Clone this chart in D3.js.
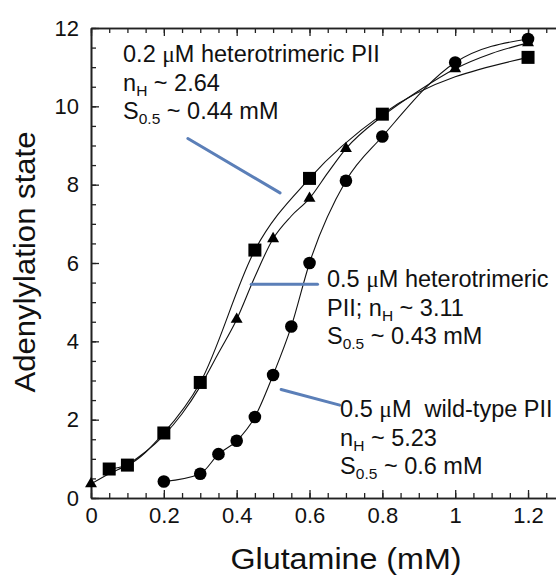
<!DOCTYPE html>
<html>
<head>
<meta charset="utf-8">
<script src="https://cdn.jsdelivr.net/npm/d3@7"></script>
<style>
  html, body { margin: 0; padding: 0; background: #fff; }
  svg { display: block; }
  text { font-family: "Liberation Sans", Arial, Helvetica, sans-serif; fill: #111; }
</style>
</head>
<body>
<svg id="chart" width="556" height="575"></svg>
<script>
// ---------- data ----------
// 0.2 µM heterotrimeric PII (squares)
const sqX = [0.05, 0.1, 0.2, 0.3, 0.45, 0.6, 0.8, 1.2];
const sqY = [0.74, 0.84, 1.66, 2.95, 6.33, 8.16, 9.8, 11.25];
// 0.5 µM heterotrimeric PII (triangles)
const triX = [0, 0.4, 0.5, 0.6, 0.7, 1.0, 1.2];
const triY = [0.36, 4.56, 6.62, 7.65, 8.92, 10.96, 11.62];
// fitted curve for triangles
const triFitX = [0, 0.05, 0.1, 0.15, 0.2, 0.25, 0.3, 0.35, 0.4, 0.45, 0.5, 0.55, 0.6, 0.65, 0.7, 0.8, 0.9, 1.0, 1.1, 1.2];
const triFitY = [0.36, 0.62, 0.85, 1.18, 1.6, 2.15, 2.85, 3.7, 4.56, 5.65, 6.62, 7.2, 7.65, 8.3, 8.92, 9.75, 10.4, 10.96, 11.35, 11.62];
// 0.5 µM wild-type PII (circles)
const ciX = [0.2, 0.3, 0.35, 0.4, 0.45, 0.5, 0.55, 0.6, 0.7, 0.8, 1.0, 1.2];
const ciY = [0.42, 0.62, 1.12, 1.46, 2.07, 3.14, 4.38, 6.0, 8.1, 9.23, 11.12, 11.72];

const xMajor = [0, 0.2, 0.4, 0.6, 0.8, 1.0, 1.2];
const xMajorLabels = ["0", "0.2", "0.4", "0.6", "0.8", "1", "1.2"];
const xMinor = d3.range(0, 27).map(i => i * 0.05);
const yMajor = [0, 2, 4, 6, 8, 10, 12];
const yMinor = d3.range(0, 25).map(i => i * 0.5);

const xTitle = "Glutamine (mM)";
const yTitle = "Adenylylation state";

// annotations: segments per line
const notes = [
  { x: 0.088, y: 11.12, lines: [
      [["0.2 ", ""], ["μ", "mu"], ["M heterotrimeric PII", ""]],
      [["n", ""], ["H", "sub"], [" ~ 2.64", ""]],
      [["S", ""], ["0.5", "sub"], [" ~ 0.44 mM", ""]]
    ], pointer: [[0.266, 9.18], [0.519, 7.79]] },
  { x: 0.648, y: 5.38, lines: [
      [["0.5 ", ""], ["μ", "mu"], ["M heterotrimeric", ""]],
      [["PII; n", ""], ["H", "sub"], [" ~ 3.11", ""]],
      [["S", ""], ["0.5", "sub"], [" ~ 0.43 mM", ""]]
    ], pointer: [[0.44, 5.46], [0.622, 5.46]] },
  { x: 0.684, y: 2.06, lines: [
      [["0.5 ", ""], ["μ", "mu"], ["M\u00a0 wild-type PII", ""]],
      [["n", ""], ["H", "sub"], [" ~ 5.23", ""]],
      [["S", ""], ["0.5", "sub"], [" ~ 0.6 mM", ""]]
    ], pointer: [[0.522, 2.77], [0.683, 2.37]] }
];

// ---------- layout ----------
const svg = d3.select("#chart");
const x = d3.scaleLinear().domain([0, 1.3]).range([91, 91 + 1.3 * 364.2]);
const y = d3.scaleLinear().domain([0, 12]).range([498, 28]);

const axisColor = "#222";
function styleAxis(g) {
  g.selectAll("path.domain").attr("stroke", axisColor).attr("stroke-width", 1.6);
  g.selectAll(".tick line").attr("stroke", axisColor).attr("stroke-width", 1.3);
  g.selectAll("text").attr("font-size", 22).attr("fill", "#111")
    .attr("font-family", "'Liberation Sans', Arial, Helvetica, sans-serif");
}
// bottom
svg.append("g").attr("transform", `translate(0,${y(0)})`)
  .call(d3.axisBottom(x).tickValues(xMinor).tickSizeInner(-5).tickSizeOuter(0).tickFormat(""))
  .call(styleAxis);
svg.append("g").attr("transform", `translate(0,${y(0)})`)
  .call(d3.axisBottom(x).tickValues(xMajor).tickSizeInner(-8).tickSizeOuter(0).tickPadding(9)
    .tickFormat((d, i) => xMajorLabels[i]))
  .call(styleAxis);
// top
svg.append("g").attr("transform", `translate(0,${y(12)})`)
  .call(d3.axisTop(x).tickValues(xMinor).tickSizeInner(-5).tickSizeOuter(0).tickFormat(""))
  .call(styleAxis);
svg.append("g").attr("transform", `translate(0,${y(12)})`)
  .call(d3.axisTop(x).tickValues(xMajor).tickSizeInner(-8).tickSizeOuter(0).tickFormat(""))
  .call(styleAxis);
// left
svg.append("g").attr("transform", `translate(${x(0)},0)`)
  .call(d3.axisLeft(y).tickValues(yMinor).tickSizeInner(-5).tickSizeOuter(0).tickFormat(""))
  .call(styleAxis);
svg.append("g").attr("transform", `translate(${x(0)},0)`)
  .call(d3.axisLeft(y).tickValues(yMajor).tickSizeInner(-8).tickSizeOuter(0).tickPadding(12)
    .tickFormat(d3.format("d")))
  .call(styleAxis);

// axis titles
svg.append("text").attr("x", 346).attr("y", 569).attr("text-anchor", "middle")
  .attr("font-size", 29).attr("textLength", 231).attr("lengthAdjust", "spacingAndGlyphs")
  .text(xTitle);
svg.append("text").attr("transform", "translate(35,262) rotate(-90)")
  .attr("text-anchor", "middle").attr("font-size", 29)
  .attr("textLength", 261).attr("lengthAdjust", "spacingAndGlyphs").text(yTitle);

// curves
const line = d3.line().x(d => x(d[0])).y(d => y(d[1])).curve(d3.curveMonotoneX);
const curves = [
  d3.zip(sqX, sqY),
  d3.zip(triFitX, triFitY),
  d3.zip(ciX, ciY)
];
svg.append("g").selectAll("path").data(curves).join("path")
  .attr("d", line).attr("fill", "none").attr("stroke", "#111").attr("stroke-width", 1.1);

// markers
const mk = svg.append("g").attr("fill", "#000");
mk.selectAll("path.tri").data(d3.zip(triX, triY)).join("path").attr("class", "tri")
  .attr("transform", d => `translate(${x(d[0])},${y(d[1])})`)
  .attr("d", d3.symbol().type(d3.symbolTriangle).size(62));
mk.selectAll("rect.sq").data(d3.zip(sqX, sqY)).join("rect").attr("class", "sq")
  .attr("x", d => x(d[0]) - 6.5).attr("y", d => y(d[1]) - 6.5)
  .attr("width", 13).attr("height", 13);
mk.selectAll("circle.ci").data(d3.zip(ciX, ciY)).join("circle").attr("class", "ci")
  .attr("cx", d => x(d[0])).attr("cy", d => y(d[1])).attr("r", 6.3);

// annotations
const lh = 28.5;
notes.forEach(n => {
  svg.append("line")
    .attr("x1", x(n.pointer[0][0])).attr("y1", y(n.pointer[0][1]))
    .attr("x2", x(n.pointer[1][0])).attr("y2", y(n.pointer[1][1]))
    .attr("stroke", "#5b7fb8").attr("stroke-width", 3).attr("stroke-linecap", "round");
  n.lines.forEach((segs, i) => {
    const t = svg.append("text").attr("x", x(n.x)).attr("y", y(n.y) + i * lh).attr("font-size", 23.5);
    segs.forEach(([s, kind], j) => {
      const ts = t.append("tspan").text(s);
      if (kind === "sub") ts.attr("font-size", 15.5).attr("dy", 5);
      else if (kind === "mu") ts.attr("font-family", "'Liberation Serif', 'DejaVu Serif', serif");
      if (j > 0 && segs[j - 1][1] === "sub") ts.attr("dy", -5);
    });
  });
});
</script>
</body>
</html>
